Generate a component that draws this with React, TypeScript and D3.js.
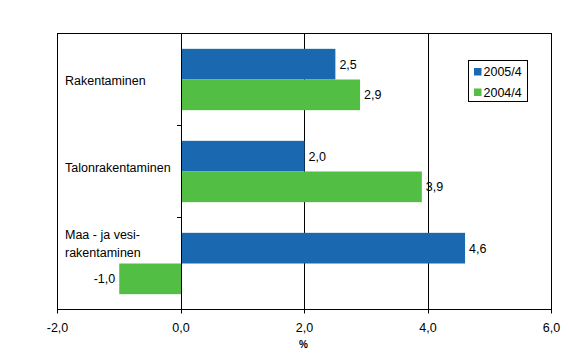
import React from 'react';
import { scaleLinear, scaleBand } from 'd3';

const categories = ['Rakentaminen', 'Talonrakentaminen', 'Maa - ja vesi-rakentaminen'];
const categoryLines = [['Rakentaminen'], ['Talonrakentaminen'], ['Maa - ja vesi-', 'rakentaminen']];
const seriesNames = ['2005/4', '2004/4'];
const series2005 = [2.5, 2.0, 4.6];
const series2004 = [2.9, 3.9, -1.0];
const xTicks = [-2, 0, 2, 4, 6];
const xTickLabels = ['-2,0', '0,0', '2,0', '4,0', '6,0'];
const xTitle = '%';

const colors = ['#1a68b0', '#52be44'];
const font = "'Liberation Sans', Arial, sans-serif";
const fs = 12.5;
// vertical shift of each category label relative to its band centre
const labelShift = [1, -3.5, -20];

const fmt = (v: number) => v.toFixed(1).replace('.', ',');
const crisp = (v: number) => Math.floor(v) + 0.5;

export default function App() {
  const width = 569;
  const height = 362;
  const left = 57.5, right = 551.5, top = 33.5, bottom = 309.5;

  const x = scaleLinear().domain([-2, 6]).range([left, right]);
  const y = scaleBand<string>().domain(categories).range([top, bottom]);
  const inner = scaleBand<string>().domain(seriesNames).range([0, y.bandwidth()]).paddingOuter(0.5);
  const values = [series2005, series2004];

  return (
    <svg width={width} height={height} style={{ position: 'absolute', left: 0, top: 0, background: '#fff' }}
      fontFamily={font} fontSize={fs}>
      <rect x={0} y={0} width={width} height={height} fill="#fff" />

      {/* grid lines */}
      {xTicks.filter(t => t > 0 && t < 6).map(t => (
        <line key={t} x1={crisp(x(t))} x2={crisp(x(t))} y1={top} y2={bottom} stroke="#000" />
      ))}

      {/* bars */}
      {categories.map((c, ci) => seriesNames.map((s, si) => {
        const v = values[si][ci];
        const x0 = x(Math.min(0, v));
        const x1 = x(Math.max(0, v));
        const yb = (y(c) as number) + (inner(s) as number);
        const h = inner.bandwidth();
        return (
          <g key={c + s}>
            <rect x={x0} y={yb} width={x1 - x0} height={h} fill={colors[si]} />
            <text x={v >= 0 ? x1 + 4 : x0 - 4} y={yb + h / 2} dy="0.35em"
              textAnchor={v >= 0 ? 'start' : 'end'} fill="#000">{fmt(v)}</text>
          </g>
        );
      }))}

      {/* category axis at zero */}
      <line x1={crisp(x(0))} x2={crisp(x(0))} y1={top} y2={bottom} stroke="#000" />
      {categories.slice(1).map(c => (
        <line key={c} x1={crisp(x(0)) - 4.5} x2={crisp(x(0))} y1={y(c)} y2={y(c)} stroke="#000" />
      ))}

      {/* category labels */}
      {categories.map((c, ci) => {
        const lines = categoryLines[ci];
        const cy = (y(c) as number) + y.bandwidth() / 2 + labelShift[ci];
        const lh = 17.5;
        return (
          <text key={c} x={65} y={cy - (lines.length - 1) * lh / 2} dy="0.35em" fill="#000">
            {lines.map((l, li) => (
              <tspan key={li} x={65} dy={li === 0 ? '0.35em' : lh}>{l}</tspan>
            ))}
          </text>
        );
      })}

      {/* plot border */}
      <rect x={left} y={top} width={right - left} height={bottom - top} fill="none" stroke="#000" />

      {/* x axis ticks and labels */}
      {xTicks.map((t, i) => (
        <g key={t}>
          <line x1={crisp(x(t))} x2={crisp(x(t))} y1={bottom} y2={bottom + 4} stroke="#000" />
          <text x={x(t)} y={327.5} dy="0.35em" textAnchor="middle" fill="#000">{xTickLabels[i]}</text>
        </g>
      ))}
      <text x={303.5} y={344} dy="0.35em" textAnchor="middle" fontSize={10} fontWeight="bold" fill="#000">{xTitle}</text>

      {/* legend */}
      <rect x={468.5} y={60.5} width={59} height={41} fill="#fff" stroke="#000" />
      {seriesNames.map((s, i) => (
        <g key={s}>
          <rect x={474} y={68 + i * 20.5} width={7.5} height={7.5} fill={colors[i]} />
          <text x={483.5} y={71.8 + i * 20.5} dy="0.35em" fill="#000">{s}</text>
        </g>
      ))}
    </svg>
  );
}
